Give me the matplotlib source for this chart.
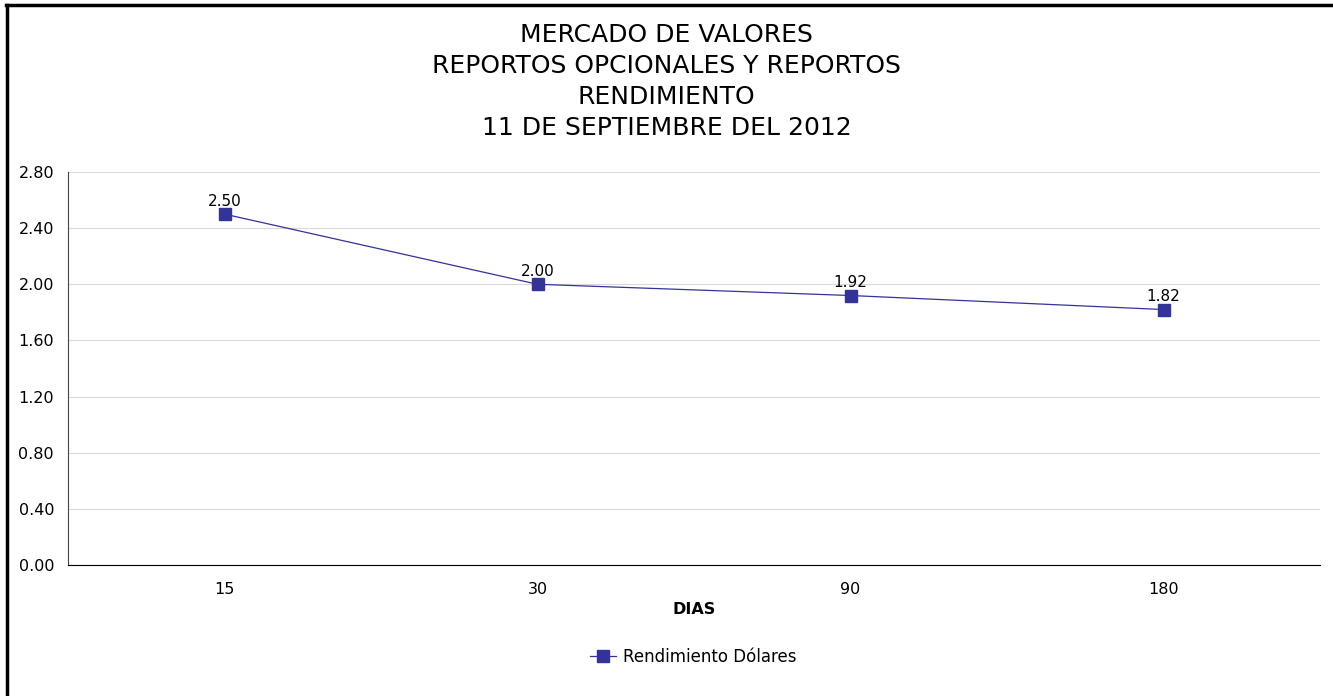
import matplotlib.pyplot as plt
from matplotlib.lines import Line2D

dias = ['15', '30', '90', '180']
rendimiento = [2.50, 2.00, 1.92, 1.82]
yticks = [0.00, 0.40, 0.80, 1.20, 1.60, 2.00, 2.40, 2.80]
titulo = ['MERCADO DE VALORES', 'REPORTOS OPCIONALES Y REPORTOS',
          'RENDIMIENTO', '11 DE SEPTIEMBRE DEL 2012']

plt.rcParams['font.family'] = ['DejaVu Sans']
color = '#333399'

fig = plt.figure(figsize=(13.33, 6.96), dpi=100)
ax = fig.add_axes([68 / 1333, 1 - 565 / 696, 1252 / 1333, 393 / 696])

x = list(range(len(dias)))
ax.plot(x, rendimiento, color=color, lw=0.9, marker='s', markersize=8,
        label='Rendimiento Dólares')
for xi, v in zip(x, rendimiento):
    ax.annotate(f'{v:.2f}', (xi, v), xytext=(0, 4), textcoords='offset points',
                ha='center', va='bottom', fontsize=11)

ax.set_xlim(-0.5, len(dias) - 0.5)
ax.set_ylim(0, 2.8)
ax.set_yticks(yticks)
ax.set_yticklabels([f'{t:.2f}' for t in yticks], fontsize=11.5)
ax.set_xticks(x)
ax.set_xticklabels(dias, fontsize=11.5)
ax.tick_params(length=0, pad=10)
ax.tick_params(axis='x', pad=12)
ax.yaxis.grid(True, color='#d9d9d9', lw=0.8)
ax.set_axisbelow(True)
for s in ['top', 'right']:
    ax.spines[s].set_visible(False)
ax.spines['left'].set_color('#444444')
ax.spines['bottom'].set_color('black')
ax.set_xlabel('DIAS', fontsize=11.5, fontweight='bold', labelpad=4)

# titulo, una linea por renglon
for i, linea in enumerate(titulo):
    fig.text(0.5, 1 - (35 + 31 * i) / 696, linea, ha='center', va='center',
             fontsize=18)

fig.legend(loc='center', bbox_to_anchor=(0.52, 1 - 657 / 696), frameon=False,
           fontsize=12, handlelength=1.6, handletextpad=0.4)

# marco
fig.add_artist(Line2D([7 / 1333, 7 / 1333], [0, 1 - 5 / 696], color='black', lw=2.5,
                      transform=fig.transFigure))
fig.add_artist(Line2D([6 / 1333, 1], [1 - 5 / 696, 1 - 5 / 696], color='black', lw=2.5,
                      transform=fig.transFigure))

fig.savefig('out.png', dpi=100)
